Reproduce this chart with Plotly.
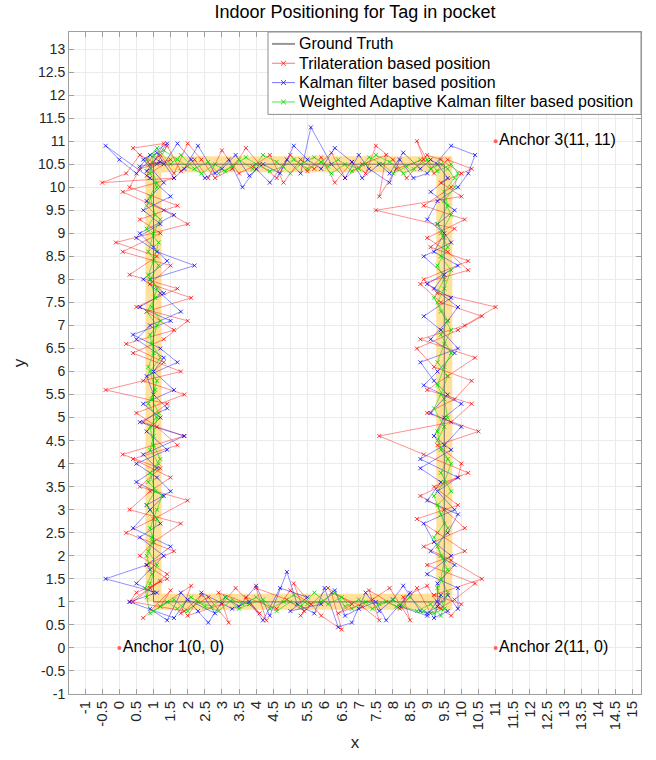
import plotly.graph_objects as go

# Ground truth path corners
gt_x = [1, 9.5, 9.5, 1, 1]
gt_y = [1, 1, 10.5, 10.5, 1]

# Trilateration based position (red), two laps
tri_x = [0.7, 1.5, 1.2, 2.1, 1.8, 2.6, 3.2, 2.9, 3.8, 4.3, 4.0, 4.9, 5.4, 5.1, 5.9, 6.5, 6.2, 7.1, 7.6, 7.3, 8.2, 8.7, 9.1, 9.8,
         10.4, 9.0, 10.1, 9.3, 8.7, 9.9, 9.2, 10.2, 8.9, 7.6, 9.7, 10.3, 9.0, 9.6, 10.4, 8.8, 10.1, 11.0, 9.3, 8.9, 10.2, 9.1, 9.8, 7.5, 10.0, 9.4, 10.3, 9.6,
         9.2, 8.7, 8.9, 8.1, 7.6, 7.8, 7.1, 6.6, 6.2, 5.7, 5.3, 4.8, 4.4, 3.9, 3.5, 3.0, 2.6, 2.2, 1.8, 1.4, 1.1, 0.6, 0.2, -0.5,
         1.6, 0.1, 1.3, 2.0, -0.1, 1.1, 0.3, 1.7, 0.5, 2.0, 1.3, 0.4, 1.8, -0.4, 1.4, 0.7, 1.9, 0.1, 1.2, 0.6, 2.0, 1.0, 0.2, 1.6, 0.8, 1.4, 0.5, 0.3,
         1.2, 0.4, 1.9, 2.4, 2.0, 3.0, 3.4, 4.1, 3.7, 4.6, 5.0, 5.6, 5.3, 6.1, 6.8, 6.4, 7.4, 7.9, 8.5, 8.3, 9.0, 9.4, 9.7, 10.0, 9.2,
         10.6, 9.7, 8.9, 10.1, 9.5, 8.8, 9.9, 10.0, 9.3, 10.5, 9.0, 9.8, 10.3, 9.2, 8.7, 9.9, 10.6, 9.4, 8.8, 10.2, 9.6, 9.0, 10.1, 8.9, 9.7, 10.0, 9.4,
         9.0, 8.4, 8.0, 7.5, 7.2, 6.8, 6.3, 5.9, 5.5, 5.0, 4.6, 4.1, 3.7, 3.3, 2.8, 2.4, 2.0, 1.6, 1.2, 0.9, 0.4, 1.3, 0.8, 1.5, 0.6,
         0.3, 1.7, 0.6, 1.2, 0.1, 1.5, 0.9, 2.1, 0.8, 1.6, 0.2, 1.3, 0.7, 1.9, 0.5, 1.1, 1.7, 0.4, 1.5, 0.9, 0.3, 1.8, 1.0, 0.6, 1.4, 0.9]
tri_y = [0.65, 1.25, 0.9, 1.35, 0.75, 1.1, 0.55, 1.2, 0.95, 0.6, 1.3, 1.05, 0.8, 1.4, 0.7, 0.4, 1.2, 0.9, 0.6, 1.25, 0.85, 1.3, 0.75, 1.05,
         1.4, 1.8, 2.1, 2.5, 2.8, 3.1, 3.5, 3.8, 4.2, 4.6, 4.9, 5.3, 5.6, 5.9, 6.3, 6.7, 7.0, 7.4, 7.7, 8.0, 8.4, 8.7, 9.1, 9.5, 9.8, 10.1, 10.4, 10.6,
         10.3, 11.0, 10.6, 10.4, 9.8, 10.7, 10.5, 10.2, 10.75, 10.4, 10.6, 10.1, 10.7, 10.45, 10.3, 10.8, 10.2, 10.6, 10.35, 10.9, 10.5, 10.7, 10.3, 10.1,
         10.2, 9.9, 9.5, 9.2, 8.8, 8.5, 8.1, 7.8, 7.4, 7.1, 6.7, 6.4, 6.0, 5.6, 5.3, 4.9, 4.6, 4.2, 3.9, 3.5, 3.2, 2.8, 2.5, 2.1, 1.8, 1.5, 1.2, 1.0,
         1.45, 1.0, 0.8, 1.15, 0.7, 0.95, 1.3, 0.75, 1.1, 0.85, 1.25, 0.95, 0.7, 1.3, 0.95, 0.75, 1.05, 1.3, 0.6, 1.1, 1.35, 0.85, 0.7, 0.95, 1.15,
         1.5, 1.9, 2.2, 2.6, 3.0, 3.3, 3.7, 4.0, 4.4, 4.7, 5.1, 5.4, 5.8, 6.1, 6.5, 6.9, 7.2, 7.5, 7.9, 8.2, 8.6, 8.9, 9.3, 9.6, 10.0, 10.3, 10.6,
         10.7, 10.2, 10.6, 10.9, 10.3, 10.55, 10.1, 10.65, 10.35, 10.7, 10.2, 10.5, 10.85, 10.4, 10.2, 10.6, 10.95, 10.3, 10.7, 10.5, 10.85, 10.95, 10.25, 10.6, 10.4,
         10.0, 9.6, 9.3, 9.0, 8.6, 8.3, 7.9, 7.6, 7.3, 6.9, 6.6, 6.2, 5.8, 5.5, 5.1, 4.8, 4.4, 4.1, 3.7, 3.4, 3.0, 2.7, 2.3, 2.0, 1.6, 1.3]

# Kalman filter based position (blue), two laps
kf_x = [0.9, 1.4, 1.8, 2.3, 2.6, 3.1, 3.5, 4.0, 4.4, 4.9, 5.2, 5.7, 6.0, 6.4, 6.8, 7.2, 7.6, 8.0, 8.3, 8.8, 9.0, 9.3, 9.6, 9.9,
        9.9, 9.0, 9.7, 9.2, 8.9, 9.8, 9.3, 9.9, 8.8, 9.5, 10.0, 9.1, 9.6, 9.2, 8.8, 9.9, 9.4, 8.9, 9.7, 9.0, 9.9, 9.2, 9.5, 9.0, 9.3, 9.9, 10.2, 10.4,
        9.7, 9.0, 8.6, 8.2, 7.9, 7.3, 7.0, 6.6, 6.2, 5.6, 5.3, 4.9, 4.4, 4.0, 3.6, 3.2, 2.8, 2.3, 1.9, 1.6, 1.1, 0.5, 0.0, -0.4,
        0.9, 1.5, 0.7, 1.2, 0.5, 1.1, 2.2, 0.9, 1.3, 0.6, 1.5, 0.4, 1.2, 1.7, 0.8, 1.0, 1.4, 0.6, 1.9, 0.7, 1.1, 0.5, 1.3, 0.9, 0.4, 1.5, 0.8, -0.4,
        1.1, 0.3, 1.6, 2.0, 2.8, 2.4, 3.3, 3.8, 4.2, 4.7, 5.5, 5.0, 5.9, 6.3, 6.6, 7.0, 7.5, 7.8, 8.5, 8.2, 9.0, 9.4, 9.2, 9.6, 9.3,
        9.3, 9.8, 9.1, 9.6, 9.9, 9.0, 9.4, 8.8, 9.7, 9.2, 9.5, 10.0, 8.9, 9.3, 9.8, 9.1, 9.6, 9.9, 9.2, 9.5, 8.9, 9.7, 9.3, 9.8, 9.1, 9.6, 9.3,
        9.1, 8.8, 8.3, 7.9, 7.6, 7.1, 6.8, 6.3, 5.9, 5.5, 5.1, 4.7, 4.2, 3.8, 3.4, 3.0, 2.5, 2.1, 1.7, 1.3, 0.9, 0.6, 1.2, 0.8, 1.4, 0.7,
        1.3, 0.8, 1.6, 0.6, 1.0, 1.4, 0.7, 1.2, 1.8, 0.9, 0.5, 1.3, 1.0, 1.6, 0.7, 1.2, 0.8, 1.4, 0.5, 1.1, 1.5, 0.8, 1.2, 0.6, 1.3, 0.9, 0.5, 1.0]
kf_y = [0.85, 0.6, 1.2, 0.8, 0.55, 1.1, 0.9, 1.35, 0.7, 1.65, 0.95, 0.75, 1.3, 0.45, 0.55, 1.2, 0.8, 1.05, 1.35, 0.8, 0.75, 0.9, 1.15, 0.85,
        1.3, 1.6, 2.0, 2.3, 2.7, 3.0, 3.4, 3.7, 4.1, 4.4, 4.8, 5.1, 5.5, 5.8, 6.2, 6.5, 6.9, 7.2, 7.6, 7.9, 8.3, 8.6, 9.0, 9.3, 9.7, 10.0, 10.3, 10.7,
        10.9, 10.3, 10.2, 10.6, 10.1, 10.4, 10.7, 10.2, 10.5, 11.3, 10.3, 10.6, 10.1, 10.4, 10.0, 10.6, 10.3, 10.9, 10.4, 10.2, 10.75, 10.3, 10.6, 10.9,
        10.2, 9.8, 9.5, 9.2, 8.9, 8.6, 8.3, 8.0, 7.7, 7.4, 7.1, 6.8, 6.5, 6.2, 5.9, 5.5, 5.2, 4.9, 4.6, 4.2, 3.9, 3.6, 3.3, 3.0, 2.6, 2.2, 1.8, 1.5,
        1.2, 1.0, 0.65, 1.05, 0.75, 1.2, 0.85, 1.0, 0.6, 1.3, 1.1, 0.8, 0.95, 1.25, 0.7, 0.85, 1.0, 0.6, 1.2, 0.9, 0.7, 1.15, 0.65, 0.8, 1.0,
        1.4, 1.8, 2.1, 2.5, 2.9, 3.2, 3.6, 3.9, 4.3, 4.6, 5.0, 5.3, 5.7, 6.0, 6.4, 6.7, 7.1, 7.4, 7.8, 8.1, 8.5, 8.8, 9.2, 9.5, 9.9, 10.2, 10.5,
        10.6, 10.4, 10.75, 10.3, 10.5, 10.2, 10.55, 10.85, 10.4, 10.6, 10.9, 10.3, 10.5, 10.25, 10.7, 10.4, 10.2, 10.6, 10.95, 10.5, 10.7, 10.45, 10.55, 10.35, 10.95, 10.6,
        10.1, 9.7, 9.4, 9.0, 8.7, 8.4, 8.0, 7.7, 7.3, 7.0, 6.7, 6.3, 6.0, 5.6, 5.3, 5.0, 4.7, 4.3, 4.0, 3.7, 3.4, 3.1, 2.7, 2.4, 2.0, 1.7, 1.4, 1.2]

# Weighted Adaptive Kalman filter based position (green), two laps
wakf_x = [1.0, 1.4, 1.7, 2.1, 2.5, 2.9, 3.3, 3.6, 4.0, 4.4, 4.8, 5.1, 5.5, 5.9, 6.3, 6.6, 7.0, 7.4, 7.8, 8.1, 8.5, 8.9, 9.2, 9.5,
          9.3, 9.6, 9.4, 9.2, 9.5, 9.3, 9.7, 9.4, 9.6, 9.3, 9.5, 9.2, 9.4, 9.6, 9.3, 9.5, 9.7, 9.4, 9.2, 9.5, 9.3, 9.6, 9.4, 9.7, 9.5, 9.8, 9.9, 9.7,
          9.3, 9.0, 8.6, 8.3, 7.9, 7.5, 7.2, 6.8, 6.4, 6.1, 5.7, 5.3, 5.0, 4.6, 4.2, 3.9, 3.5, 3.1, 2.8, 2.4, 2.0, 1.7, 1.3, 1.0,
          0.9, 1.1, 0.8, 1.2, 1.0, 0.85, 1.15, 0.9, 1.05, 0.8, 1.1, 0.95, 1.2, 0.9, 1.05, 0.85, 1.1, 1.0, 0.9, 1.15, 0.85, 1.25, 1.1, 0.9, 1.0, 0.8, 0.95, 0.75,
          0.9, 1.2, 1.6, 2.0, 2.3, 2.7, 3.1, 3.5, 3.8, 4.2, 4.6, 5.0, 5.3, 5.7, 6.1, 6.5, 6.8, 7.2, 7.6, 8.0, 8.3, 8.7, 9.1, 9.4,
          9.6, 9.4, 9.5, 9.3, 9.6, 9.4, 9.2, 9.5, 9.7, 9.4, 9.3, 9.6, 9.5, 9.3, 9.5, 9.7, 9.4, 9.6, 9.3, 9.5, 9.7, 9.4, 9.5, 9.3, 9.6, 9.5, 9.8, 9.6,
          9.4, 9.1, 8.8, 8.4, 8.0, 7.7, 7.3, 7.0, 6.6, 6.2, 5.9, 5.5, 5.1, 4.8, 4.4, 4.0, 3.7, 3.3, 2.9, 2.6, 2.2, 1.8, 1.5, 1.1, 0.8,
          1.1, 0.9, 1.05, 0.8, 1.15, 1.0, 0.85, 1.1, 0.95, 1.2, 0.9, 1.0, 0.85, 1.1, 0.95, 1.15, 0.9, 1.0, 1.2, 0.9, 1.05, 0.8, 1.1, 0.95, 0.85, 1.1, 0.9, 0.8]
wakf_y = [0.8, 1.0, 0.85, 1.1, 0.9, 0.8, 1.05, 0.95, 1.1, 0.85, 1.0, 1.15, 0.95, 1.0, 1.2, 0.9, 1.05, 0.85, 1.0, 0.9, 1.1, 0.8, 0.75, 0.85,
          1.3, 1.7, 2.0, 2.4, 2.7, 3.1, 3.4, 3.8, 4.1, 4.5, 4.8, 5.2, 5.5, 5.9, 6.2, 6.6, 6.9, 7.3, 7.6, 8.0, 8.3, 8.7, 9.0, 9.4, 9.7, 10.0, 10.3, 10.5,
          10.35, 10.6, 10.4, 10.3, 10.55, 10.7, 10.5, 10.35, 10.6, 10.45, 10.65, 10.5, 10.3, 10.55, 10.7, 10.4, 10.6, 10.35, 10.5, 10.3, 10.45, 10.6, 10.8, 10.7,
          10.3, 10.0, 9.6, 9.3, 9.0, 8.6, 8.3, 8.0, 7.6, 7.3, 7.0, 6.6, 6.3, 6.0, 5.6, 5.3, 5.0, 4.6, 4.3, 4.0, 3.6, 3.3, 3.0, 2.6, 2.3, 2.0, 1.6, 1.3,
          0.75, 0.9, 1.05, 0.8, 1.0, 0.9, 1.1, 0.85, 0.95, 1.05, 0.8, 1.0, 0.9, 1.2, 0.95, 1.1, 0.85, 1.0, 0.95, 1.05, 0.9, 0.8, 0.95, 0.7,
          1.2, 1.5, 1.9, 2.2, 2.6, 2.9, 3.3, 3.6, 4.0, 4.3, 4.7, 5.0, 5.4, 5.7, 6.1, 6.4, 6.8, 7.1, 7.5, 7.8, 8.2, 8.5, 8.9, 9.2, 9.6, 9.9, 10.2, 10.4,
          10.5, 10.4, 10.6, 10.45, 10.3, 10.5, 10.65, 10.4, 10.5, 10.3, 10.55, 10.4, 10.6, 10.45, 10.35, 10.5, 10.65, 10.45, 10.3, 10.55, 10.4, 10.7, 10.5, 10.85, 10.6,
          10.1, 9.8, 9.4, 9.1, 8.8, 8.4, 8.1, 7.8, 7.4, 7.1, 6.8, 6.4, 6.1, 5.8, 5.4, 5.1, 4.8, 4.4, 4.1, 3.8, 3.4, 3.1, 2.8, 2.4, 2.1, 1.8, 1.4, 1.1]

# Anchors
anchor_x = [0, 11, 11]
anchor_y = [0, 0, 11]
anchor_labels = ["Anchor 1(0, 0)", "Anchor 2(11, 0)", "Anchor 3(11, 11)"]

# Legend entries
legend_names = ["Ground Truth", "Trilateration based position", "Kalman filter based position",
                "Weighted Adaptive Kalman filter based position"]

# Tick labels
x_ticks = [-1 + 0.5 * i for i in range(33)]
x_ticktext = [("%g" % v) for v in x_ticks]
y_ticks = [-1 + 0.5 * i for i in range(29)]
y_ticktext = [("%g" % v) for v in y_ticks]

FONT = "Liberation Sans, Arial, sans-serif"
RED_L, RED_M = "rgba(255,0,0,0.55)", "rgba(255,0,0,0.75)"
BLUE_L, BLUE_M = "rgba(0,0,255,0.55)", "rgba(0,0,255,0.75)"
GREEN_L, GREEN_M = "rgba(0,220,0,0.7)", "rgba(0,220,0,0.85)"

fig = go.Figure()

# yellow band along ground truth
fig.add_trace(go.Scatter(x=gt_x, y=gt_y, mode="lines",
                         line=dict(color="rgba(255,200,70,0.55)", width=16),
                         showlegend=False, hoverinfo="skip"))

fig.add_trace(go.Scatter(x=tri_x, y=tri_y, mode="lines+markers", name=legend_names[1],
                         line=dict(color=RED_L, width=0.8),
                         marker=dict(symbol="x-thin", size=4, line=dict(color=RED_M, width=1))))
fig.add_trace(go.Scatter(x=kf_x, y=kf_y, mode="lines+markers", name=legend_names[2],
                         line=dict(color=BLUE_L, width=0.8),
                         marker=dict(symbol="x-thin", size=4, line=dict(color=BLUE_M, width=1))))
fig.add_trace(go.Scatter(x=wakf_x, y=wakf_y, mode="lines+markers", name=legend_names[3],
                         line=dict(color=GREEN_L, width=0.8),
                         marker=dict(symbol="x-thin", size=4, line=dict(color=GREEN_M, width=1))))
fig.add_trace(go.Scatter(x=gt_x, y=gt_y, mode="lines", name=legend_names[0],
                         line=dict(color="rgba(90,90,90,0.8)", width=1)))

fig.add_trace(go.Scatter(x=anchor_x, y=anchor_y, mode="markers+text", text=anchor_labels,
                         textposition="middle right",
                         textfont=dict(family=FONT, size=16, color="#000000"),
                         marker=dict(color="rgba(255,60,60,0.8)", size=4), showlegend=False))

# ---- manual legend box (pixel layout of plot area: x 69..641, y 32..699)
PL, PR, PT, PB = 69, 641, 32, 699
def px(xp):
    return (xp - PL) / (PR - PL)
def py(yp):
    return (PB - yp) / (PB - PT)

shapes = [dict(type="rect", xref="paper", yref="paper", x0=px(268), x1=px(641), y0=py(115), y1=py(32),
               line=dict(color="#8c8c8c", width=1), fillcolor="white", layer="above")]
annotations = []
row_y = [44, 63.5, 83, 102.5]
styles = [("rgba(150,150,150,1)", None, 2), (RED_L, RED_M, 1), (BLUE_L, BLUE_M, 1), (GREEN_L, GREEN_M, 1)]
for name, yy, (lc, mc, lw) in zip(legend_names, row_y, styles):
    shapes.append(dict(type="line", xref="paper", yref="paper", x0=px(272), x1=px(295), y0=py(yy), y1=py(yy),
                       line=dict(color=lc, width=lw), layer="above"))
    if mc is not None:
        cx = 283.5
        d = 2.5
        path = "M %f,%f L %f,%f M %f,%f L %f,%f" % (px(cx - d), py(yy - d), px(cx + d), py(yy + d),
                                                    px(cx - d), py(yy + d), px(cx + d), py(yy - d))
        shapes.append(dict(type="path", xref="paper", yref="paper", path=path,
                           line=dict(color=mc, width=1), layer="above"))
    annotations.append(dict(x=px(297), y=py(yy), xref="paper", yref="paper", text=name, showarrow=False,
                            xanchor="left", yanchor="middle",
                            font=dict(family=FONT, size=16, color="#000000")))

fig.update_layout(
    width=656, height=760,
    margin=dict(l=PL, r=656 - PR, t=PT, b=760 - PB),
    paper_bgcolor="white", plot_bgcolor="white",
    font=dict(family=FONT, size=14, color="#262626"),
    title=dict(text="Indoor Positioning for Tag in pocket", x=0.5, xref="paper", xanchor="center",
               y=0.984, yanchor="middle", font=dict(family=FONT, size=18, color="#000000")),
    showlegend=False,
    shapes=shapes,
    annotations=annotations,
)
fig.update_xaxes(range=[-1.47, 15.25], tickvals=x_ticks, ticktext=x_ticktext, tickangle=-90,
                 showgrid=True, gridcolor="#ebebeb", gridwidth=1, zeroline=False,
                 showline=True, linecolor="#a0a0a0", linewidth=1, mirror="ticks",
                 ticks="inside", ticklen=5, tickcolor="#a0a0a0",
                 tickfont=dict(family=FONT, size=15, color="#262626"),
                 title=dict(text="x", font=dict(family=FONT, size=17, color="#262626"), standoff=6))
fig.update_yaxes(range=[-1, 13.37], tickvals=y_ticks, ticktext=y_ticktext,
                 showgrid=True, gridcolor="#ebebeb", gridwidth=1, zeroline=False,
                 showline=True, linecolor="#a0a0a0", linewidth=1, mirror="ticks",
                 ticks="inside", ticklen=5, tickcolor="#a0a0a0",
                 tickfont=dict(family=FONT, size=14, color="#262626"),
                 title=dict(text="y", font=dict(family=FONT, size=17, color="#262626"), standoff=8))

fig.write_html("out.html")
